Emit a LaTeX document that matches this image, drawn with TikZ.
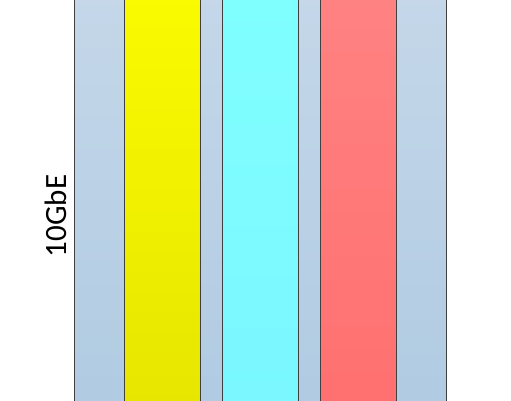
\documentclass[tikz,border=0pt]{standalone}
\usepackage{fontspec}
\setmainfont{Carlito}
\definecolor{frametop}{RGB}{197,215,233}
\definecolor{framebot}{RGB}{176,203,226}
\definecolor{yeltop}{RGB}{250,250,0}
\definecolor{yelbot}{RGB}{230,230,0}
\definecolor{cyantop}{RGB}{128,255,255}
\definecolor{cyanbot}{RGB}{122,247,255}
\definecolor{redtop}{RGB}{255,130,130}
\definecolor{redbot}{RGB}{255,112,112}
\definecolor{edge}{RGB}{64,64,64}
\tikzset{
  lane/.style={draw=edge, line width=0.9pt}
}
\begin{document}
\begin{tikzpicture}[x=1pt, y=1pt, line join=round]
	\useasboundingbox (0,0) rectangle (511,400);
	\clip (0,0) rectangle (511,400);
	% backplane
	\draw[lane, top color=frametop, bottom color=framebot] (74.5,-5) rectangle (446.5,405);
	% coloured lanes
	\foreach \xa/\xb/\ctop/\cbot in {124.5/200/yeltop/yelbot, 222.5/298.5/cyantop/cyanbot, 320.5/396/redtop/redbot}{
		\draw[lane, top color=\ctop, bottom color=\cbot] (\xa,-5) rectangle (\xb,405);
	}
	\node[rotate=90, font=\fontsize{31}{37}\selectfont] (speed) at (56,184) {10GbE};
\end{tikzpicture}
\end{document}
